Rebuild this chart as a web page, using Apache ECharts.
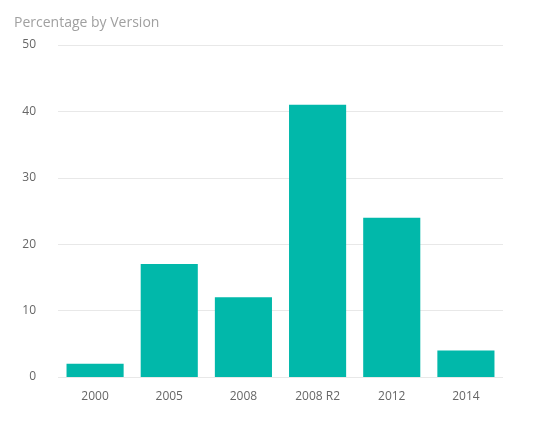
<!DOCTYPE html>
<html>
<head>
<meta charset="utf-8">
<script src="https://cdn.jsdelivr.net/npm/echarts@6/dist/echarts.min.js"></script>
<style>
  html, body { margin: 0; padding: 0; background: #fff; }
  #chart { width: 553px; height: 425px; }
</style>
</head>
<body>
<div id="chart"></div>
<script>
// data
const versions = ["2000", "2005", "2008", "2008 R2", "2012", "2014"];
const percentages = [2, 17, 12, 41, 24, 4];

const chart = echarts.init(document.getElementById("chart"));

chart.setOption({
  animation: false,
  title: {
    text: "Percentage by Version",
    left: 9,
    top: 11,
    textStyle: { fontFamily: "Open Sans", fontSize: 14, fontWeight: "normal", color: "#a0a0a0" },
  },
  grid: { left: 58, right: 50, top: 45, bottom: 48 },
  xAxis: {
    type: "category",
    data: versions,
    axisLine: { show: false },
    axisTick: { show: false },
    axisLabel: { color: "#666", fontFamily: "Open Sans", fontSize: 12, margin: 14 },
  },
  yAxis: {
    type: "value",
    min: 0,
    max: 50,
    interval: 10,
    axisLabel: { color: "#666", fontFamily: "Open Sans", fontSize: 12, margin: 22 },
    splitLine: { lineStyle: { color: "#e8e8e8" } },
  },
  series: [
    {
      type: "bar",
      data: percentages,
      barWidth: "77%",
      itemStyle: { color: "#01B8AA" },
    },
  ],
});
</script>
</body>
</html>
